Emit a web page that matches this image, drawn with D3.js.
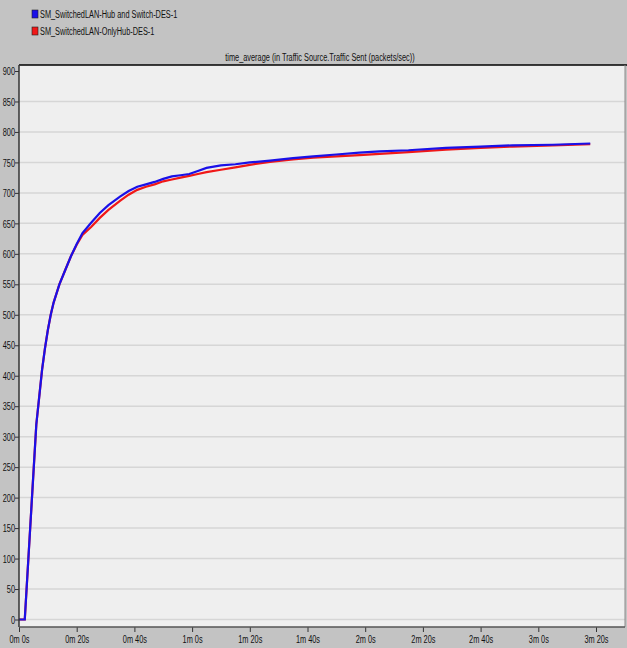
<!DOCTYPE html>
<html>
<head>
<meta charset="utf-8">
<script src="https://cdn.jsdelivr.net/npm/d3@7"></script>
<style>
  body { margin: 0; background: #c3c3c3; }
  svg { display: block; font-family: "Liberation Sans", Arial, sans-serif; }
  .grid line { stroke: #d6d6d6; stroke-width: 1.5; }
  .tick text { fill: #111; font-size: 11.5px; }
</style>
</head>
<body>
<div id="chart"></div>
<script>
// series names (legend)
var seriesNames = ["SM_SwitchedLAN-Hub and Switch-DES-1", "SM_SwitchedLAN-OnlyHub-DES-1"];
var seriesColors = ["#1a10e8", "#f01818"];
var chartTitle = "time_average (in Traffic Source.Traffic Sent (packets/sec))";

// time in seconds
var times = [0, 2, 6, 7, 8, 9, 10, 11, 12, 14, 16, 18, 20, 22, 25, 28, 31, 35, 38, 41, 44, 47, 50, 53, 56, 59, 62, 65, 70, 75, 80, 87, 95, 102, 110, 118, 125, 135, 148, 160, 171, 185, 198];

// Hub and Switch (blue)
var hubSwitch = [0, 0, 320, 365, 410, 445, 475, 500, 520, 550, 573, 596, 616, 634, 651, 667, 680, 694, 703, 710, 714, 718, 723, 727, 729, 731, 736, 741, 745, 747, 750, 753, 757, 760, 763, 766, 768, 770, 774, 776, 778, 779, 781];

// Only Hub (red)
var onlyHub = [0, 0, 320, 365, 410, 445, 475, 500, 520, 550, 573, 596, 615, 631, 644, 659, 672, 687, 697, 705, 710, 714, 719, 722, 725, 728, 731, 734, 738, 742, 746, 751, 755, 758, 760, 762, 764, 767, 771, 774, 776, 778, 780];

// axis ticks
var yTicks = [0, 50, 100, 150, 200, 250, 300, 350, 400, 450, 500, 550, 600, 650, 700, 750, 800, 850, 900];
var xTicks = [0, 20, 40, 60, 80, 100, 120, 140, 160, 180, 200];
var xTickLabels = ["0m 0s", "0m 20s", "0m 40s", "1m 0s", "1m 20s", "1m 40s", "2m 0s", "2m 20s", "2m 40s", "3m 0s", "3m 20s"];

var W = 627, H = 648;
var plot = {left: 19, right: 625, top: 65, bottom: 627};
var squeeze = 0.64; // condensed look of the original font

var x = d3.scaleLinear().domain([0, 210]).range([plot.left, plot.left + 210 * 2.885]);
var y = d3.scaleLinear().domain([0, 900]).range([619.5, 71]);

var svg = d3.select("#chart").append("svg")
  .attr("width", W)
  .attr("height", H);

// background
svg.append("rect").attr("width", W).attr("height", H).attr("fill", "#c3c3c3");

// plot area
svg.append("rect")
  .attr("x", plot.left).attr("y", plot.top)
  .attr("width", plot.right - plot.left).attr("height", plot.bottom - plot.top)
  .attr("fill", "#efefef");

// horizontal grid
svg.append("g")
  .attr("class", "grid")
  .selectAll("line")
  .data(yTicks.filter(function(d) { return d !== 900; }))
  .enter().append("line")
  .attr("x1", plot.left).attr("x2", plot.right)
  .attr("y1", function(d) { return y(d); })
  .attr("y2", function(d) { return y(d); });

// frame: top black, right grey
svg.append("line")
  .attr("x1", plot.left).attr("x2", W).attr("y1", plot.top).attr("y2", plot.top)
  .attr("stroke", "#000").attr("stroke-width", 1.5);
svg.append("line")
  .attr("x1", plot.right).attr("x2", plot.right).attr("y1", plot.top).attr("y2", plot.bottom)
  .attr("stroke", "#8a8a8a").attr("stroke-width", 1);

// lines
var valueline = function(vals) {
  return d3.line()
    .x(function(d, i) { return x(times[i]); })
    .y(function(d) { return y(d); })(vals);
};

svg.append("path")
  .attr("d", valueline(onlyHub))
  .attr("fill", "none")
  .attr("stroke", seriesColors[1])
  .attr("stroke-width", 2.2);

svg.append("path")
  .attr("d", valueline(hubSwitch))
  .attr("fill", "none")
  .attr("stroke", seriesColors[0])
  .attr("stroke-width", 2.2);

// Y axis
var yAxis = svg.append("g")
  .attr("transform", "translate(" + plot.left + ",0)")
  .call(d3.axisLeft(y).tickValues(yTicks).tickSize(4));
yAxis.select(".domain").remove();
yAxis.selectAll(".tick line").attr("stroke", "#333");
yAxis.selectAll(".tick text")
  .attr("x", 0)
  .attr("transform", "translate(-4,0) scale(" + squeeze + ",1)");
svg.append("line")
  .attr("x1", plot.left).attr("x2", plot.left).attr("y1", plot.top).attr("y2", plot.bottom)
  .attr("stroke", "#333").attr("stroke-width", 1.5);

// X axis
var xAxis = svg.append("g")
  .attr("transform", "translate(0," + plot.bottom + ")")
  .call(d3.axisBottom(x).tickValues(xTicks).tickSize(5).tickPadding(3)
    .tickFormat(function(d, i) { return xTickLabels[i]; }));
xAxis.select(".domain").remove();
xAxis.selectAll(".tick line").attr("stroke", "#333");
xAxis.selectAll(".tick text").attr("transform", "scale(" + squeeze + ",1)");
svg.append("line")
  .attr("x1", plot.left).attr("x2", plot.right).attr("y1", plot.bottom).attr("y2", plot.bottom)
  .attr("stroke", "#555").attr("stroke-width", 1.5);

// title
svg.append("text")
  .attr("transform", "translate(320,61) scale(" + squeeze + ",1)")
  .style("text-anchor", "middle")
  .style("font-size", "11.5px")
  .attr("fill", "#111")
  .text(chartTitle);

// legend
var legend = svg.append("g").selectAll("g")
  .data(seriesNames)
  .enter().append("g")
  .attr("transform", function(d, i) { return "translate(32," + (10 + i * 17) + ")"; });

legend.append("rect")
  .attr("width", 6).attr("height", 8)
  .attr("fill", function(d, i) { return seriesColors[i]; })
  .attr("stroke", "#222").attr("stroke-width", 0.6);

legend.append("text")
  .attr("transform", "translate(8,8) scale(" + squeeze + ",1)")
  .style("font-size", "11.5px")
  .attr("fill", "#111")
  .text(function(d) { return d; });
</script>
</body>
</html>
